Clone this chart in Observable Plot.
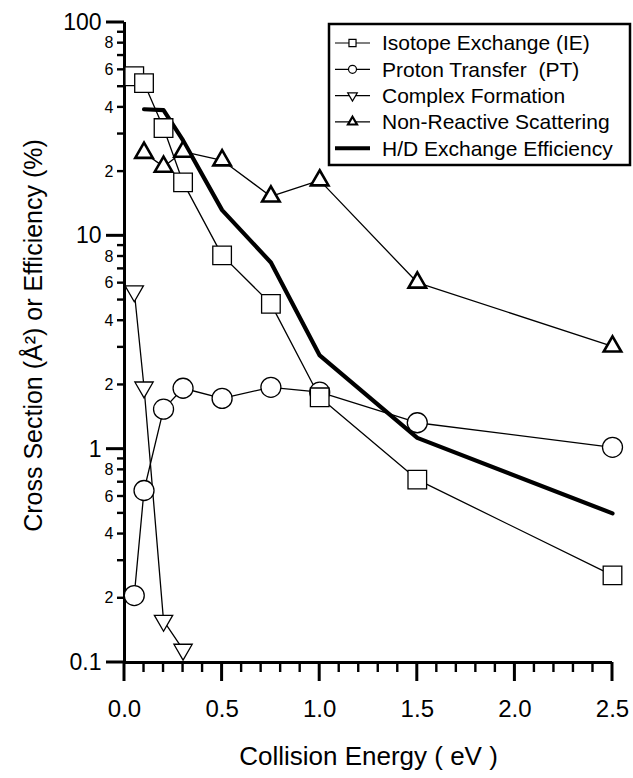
<!DOCTYPE html>
<html><head><meta charset="utf-8">
<script src="https://cdn.jsdelivr.net/npm/d3@7"></script>
<script src="https://cdn.jsdelivr.net/npm/@observablehq/plot@0.6"></script>
<style>
body{margin:0;background:#fff;}
#chart{position:relative;width:633px;height:778px;}
</style></head><body><div id="chart"></div>
<script>
// ---- data ----
const energyIE = [0.05, 0.1, 0.2, 0.3, 0.5, 0.75, 1.0, 1.5, 2.5];
const isotopeExchange = [56, 52, 32, 17.8, 8.1, 4.8, 1.75, 0.72, 0.256];

const energyPT = [0.05, 0.1, 0.2, 0.3, 0.5, 0.75, 1.0, 1.5, 2.5];
const protonTransfer = [0.206, 0.64, 1.54, 1.93, 1.73, 1.95, 1.85, 1.33, 1.02];

const energyCF = [0.05, 0.1, 0.2, 0.3];
const complexFormation = [5.5, 1.95, 0.157, 0.115];

const energyNRS = [0.1, 0.2, 0.3, 0.5, 0.75, 1.0, 1.5, 2.5];
const nonReactive = [24.5, 21.1, 24.8, 22.6, 15.3, 18.2, 6.04, 3.03];

const energyHD = [0.1, 0.2, 0.3, 0.5, 0.75, 1.0, 1.5, 2.5];
const hdEfficiency = [39.2, 38.8, 28, 13.2, 7.5, 2.75, 1.13, 0.5];

const legendLabels = ["Isotope Exchange (IE)", "Proton Transfer  (PT)", "Complex Formation", "Non-Reactive Scattering", "H/D Exchange Efficiency"];

const xMajorTicks = [0, 0.5, 1.0, 1.5, 2.0, 2.5];
const xMajorLabels = ["0.0", "0.5", "1.0", "1.5", "2.0", "2.5"];
const xMinorTicks = d3.range(0, 26).map(i => i / 10).filter(v => Math.round(v * 10) % 5 !== 0);

const yMajorTicks = [0.1, 1, 10, 100];
const yMajorLabels = ["0.1", "1", "10", "100"];
const yMinorTicks = [];
const yMinorLabels = [];
[0.1, 1, 10].forEach(dec => { for (let k = 2; k <= 9; k++) { yMinorTicks.push(+(k * dec).toPrecision(3)); yMinorLabels.push(k % 2 === 0 ? String(k) : ""); } });

const xTitle = "Collision Energy ( eV )";
const yTitle = "Cross Section (Å²) or Efficiency (%)";

// ---- build ----
const font = '"Liberation Sans", Arial, Helvetica, sans-serif';
const rows = (xs, ys) => xs.map((e, i) => ({e, v: ys[i]}));
const ie = rows(energyIE, isotopeExchange);
const pt = rows(energyPT, protonTransfer);
const cf = rows(energyCF, complexFormation);
const nrs = rows(energyNRS, nonReactive);
const hd = rows(energyHD, hdEfficiency);

const xMajMap = new Map(xMajorTicks.map((t, i) => [t, xMajorLabels[i]]));
const yMajMap = new Map(yMajorTicks.map((t, i) => [t, yMajorLabels[i]]));
const yMinMap = new Map(yMinorTicks.map((t, i) => [t, yMinorLabels[i]]));

const xTickRows = [...xMinorTicks.map(t => ({t, len: 10, w: 2.4})), ...xMajorTicks.map(t => ({t, len: 19, w: 3}))];
const yTickRows = [...yMinorTicks.map(t => ({t, len: 7, w: 2.4})), ...yMajorTicks.map(t => ({t, len: 18, w: 3}))];

const thin = 1.3;
const plot = Plot.plot({
  width: 633, height: 778,
  marginLeft: 124, marginRight: 21, marginTop: 22, marginBottom: 116,
  style: {fontFamily: font, color: "#000", background: "#fff", overflow: "visible"},
  x: {domain: [0, 2.5], axis: null, label: null},
  y: {type: "log", domain: [0.1, 100], axis: null, label: null},
  marks: [
    // tick labels
    Plot.text(xMajorTicks, {x: d => d, y: () => 0.1, text: d => xMajMap.get(d), dy: 47, fontSize: 24}),
    Plot.text(yMajorTicks, {x: () => 0, y: d => d, text: d => yMajMap.get(d), dx: -23, textAnchor: "end", fontSize: 23}),
    Plot.text(yMinorTicks, {x: () => 0, y: d => d, text: d => yMinMap.get(d), dx: -11, textAnchor: "end", fontSize: 16}),
    // axis lines
    Plot.ruleX([0], {strokeWidth: 3}),
    Plot.ruleY([0.1], {strokeWidth: 3}),
    // series
    Plot.line(pt, {x: "e", y: "v", stroke: "#000", strokeWidth: thin}),
    Plot.line(cf, {x: "e", y: "v", stroke: "#000", strokeWidth: thin}),
    Plot.line(nrs, {x: "e", y: "v", stroke: "#000", strokeWidth: thin}),
    Plot.line(ie, {x: "e", y: "v", stroke: "#000", strokeWidth: thin}),
    Plot.line(hd, {x: "e", y: "v", stroke: "#000", strokeWidth: 4.2}),
    Plot.dot(pt, {x: "e", y: "v", symbol: "circle", r: 10, fill: "#fff", stroke: "#000", strokeWidth: thin}),
    Plot.dot(cf, {x: "e", y: "v", symbol: "triangle", rotate: 180, r: 6.8, fill: "#fff", stroke: "#000", strokeWidth: thin}),
    Plot.dot(nrs, {x: "e", y: "v", symbol: "triangle", r: 6.5, fill: "#fff", stroke: "#000", strokeWidth: 2.6}),
    Plot.dot(ie, {x: "e", y: "v", symbol: "square", r: 10.5, fill: "#fff", stroke: "#000", strokeWidth: thin}),
    // titles
    Plot.text([xTitle], {frameAnchor: "bottom", dy: 102, fontSize: 26, textAnchor: "middle"}),
    Plot.text([yTitle], {frameAnchor: "left", dx: -91, dy: -7, rotate: -90, fontSize: 25, textAnchor: "middle"})
  ]
});

const svg = d3.select(plot);
// Plot's own resolved x / y scales
const psx = plot.scale("x"), psy = plot.scale("y");
const X = d3.scaleLinear(psx.domain, psx.range);
const Y = d3.scaleLog(psy.domain, psy.range);
const x0 = X(0), y0 = Y(0.1);

const tg = svg.append("g").attr("class", "ticks");
tg.selectAll("path.xt").data(xTickRows).join("path").attr("class", "xt")
  .attr("d", d => `M${X(d.t)},${y0}V${y0 + d.len}`)
  .attr("stroke", "black").attr("fill", "none").attr("stroke-width", d => d.w);
tg.selectAll("path.yt").data(yTickRows).join("path").attr("class", "yt")
  .attr("d", d => `M${x0},${Y(d.t)}H${x0 - d.len}`)
  .attr("stroke", "black").attr("fill", "none").attr("stroke-width", d => d.w);

// legend
const g = svg.append("g").attr("font-family", font).attr("text-anchor", "start");
g.append("rect").attr("x", 329).attr("y", 24).attr("width", 301).attr("height", 141)
  .attr("fill", "#fff").attr("stroke", "#000").attr("stroke-width", 2.5);
const syms = [
  {type: d3.symbolSquare, size: 50, rot: 0, sw: 1.2},
  {type: d3.symbolCircle, size: 50, rot: 0, sw: 1.2},
  {type: d3.symbolTriangle, size: 40, rot: 180, sw: 1.2},
  {type: d3.symbolTriangle, size: 35, rot: 0, sw: 2.2},
  null
];
legendLabels.forEach((label, i) => {
  const y = 43 + i * 26.3;
  const s = syms[i];
  g.append("line").attr("x1", 335).attr("x2", 370).attr("y1", y).attr("y2", y)
    .attr("stroke", "#000").attr("stroke-width", s ? 1.2 : 4);
  if (s) {
    g.append("path").attr("d", d3.symbol(s.type, s.size)())
      .attr("transform", `translate(352.5,${y}) rotate(${s.rot})`)
      .attr("fill", "#fff").attr("stroke", "#000").attr("stroke-width", s.sw);
  }
  g.append("text").attr("x", 382).attr("y", y).attr("dy", "0.35em").attr("text-anchor", "start")
    .attr("font-size", 21).attr("fill", "#000").text(label);
});

document.getElementById("chart").appendChild(plot);
</script>
</body></html>
